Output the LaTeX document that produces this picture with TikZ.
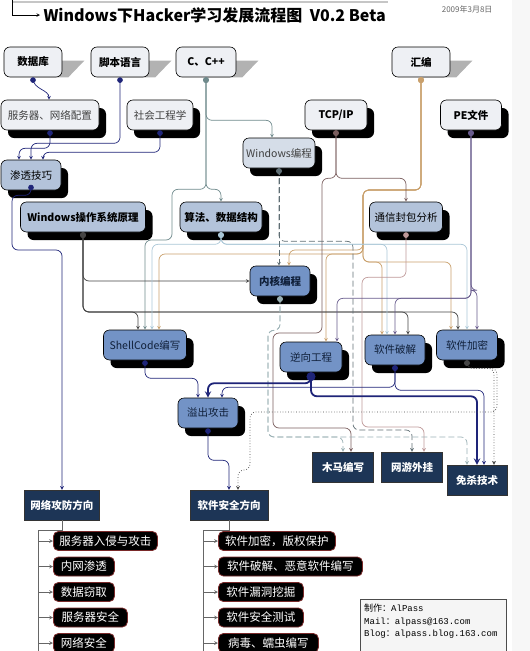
\documentclass[tikz,border=0pt]{standalone}
\usepackage{fontspec}
\setmainfont{Noto Sans CJK SC}
\setmonofont{Liberation Mono}
\usepackage{tikz}
\usetikzlibrary{shapes.geometric, arrows, shadows, calc, backgrounds}
\definecolor{boxwhite}{HTML}{EEF0F4}
\definecolor{boxpale}{HTML}{D5DDE8}
\definecolor{boxlight}{HTML}{B3C3DA}
\definecolor{boxmid}{HTML}{7393C6}
\definecolor{boxnavy}{HTML}{1D3556}
\definecolor{itemred}{HTML}{7A2A2A}
\definecolor{lnavy}{HTML}{1E2478}
\definecolor{ldark}{HTML}{454545}
\definecolor{lteal}{HTML}{6F8A8C}
\definecolor{lsky}{HTML}{A9C6D6}
\definecolor{lorange}{HTML}{C9A06C}
\definecolor{lbrown}{HTML}{7A5E5E}
\definecolor{lpink}{HTML}{BE9898}
\definecolor{lpurple}{HTML}{675A8C}
\definecolor{ldash}{HTML}{5F6E74}
\definecolor{ldashlight}{HTML}{9AB0B4}
\tikzstyle{basebox} = [rectangle, rounded corners=6pt, draw=black, line width=0.6pt, minimum height=30pt, inner sep=2pt, font=\fontsize{10.5}{12}\selectfont]
\tikzstyle{topbox} = [basebox, fill=boxwhite, font=\fontsize{10.5}{12}\selectfont\bfseries]
\tikzstyle{blackshadow} = [drop shadow={shadow xshift=7pt, shadow yshift=-8pt, fill=black, opacity=1}]
\tikzstyle{subbox} = [basebox, blackshadow, fill=boxwhite, text=black!75]
\tikzstyle{lightbox} = [basebox, blackshadow, fill=boxlight]
\tikzstyle{midbox} = [basebox, blackshadow, fill=boxmid, text={rgb,255:red,16;green,32;blue,58}]
\tikzstyle{navybox} = [rectangle, draw=black!80, fill=boxnavy, text=white, minimum height=30pt, inner sep=2pt, font=\fontsize{10.5}{12}\selectfont\bfseries]
\tikzstyle{itembox} = [rectangle, rounded corners=5pt, draw=itemred, line width=0.8pt, fill=black, text=white, minimum height=19pt, inner sep=2pt, font=\fontsize{11.5}{12}\selectfont]
\tikzstyle{link} = [line width=0.7pt, rounded corners=6pt, *->, >=stealth]
\tikzstyle{thicklink} = [link, line width=1.8pt, draw=lnavy]
\tikzstyle{dlink} = [link, dashed, dash pattern=on 6pt off 3pt]
\tikzstyle{olink} = [link, dotted]
\tikzstyle{trunk} = [line width=0.7pt, draw=black!60]

\begin{document}
\begin{tikzpicture}[x=1pt, y=-1pt]
  \useasboundingbox (0,0) rectangle (530,651);
  \fill[gray!6] (512,0) rectangle (530,651);

  % title
  \node (title) [anchor=west, font=\fontsize{16}{18}\selectfont\bfseries] at (40,15) {Windows下Hacker学习发展流程图\ \ V0.2 Beta};
  \node (date) [anchor=east, text=black!60, font=\fontsize{8}{9}\selectfont] at (496,9) {2009年3月8日};
  \draw[gray!45, line width=1.5pt] (13,2) -- (388,2);
  \draw[black, line width=0.6pt, ->, >=stealth] (12,0) |- (title.west);

  % sources
  \node (db) [topbox, minimum width=58pt] at (33,62) {数据库};
  \node (script) [topbox, minimum width=58pt] at (120,62) {脚本语言};
  \node (cpp) [topbox, minimum width=60pt] at (206,62) {C、C++};
  \node (asm) [topbox, minimum width=58pt] at (421,62) {汇编};

  \node (server) [subbox, minimum width=98pt] at (50,115) {服务器、网络配置};
  \node (social) [subbox, minimum width=66pt] at (160,115) {社会工程学};
  \node (tcp) [subbox, text=black, font=\fontsize{10.5}{12}\selectfont\bfseries, minimum width=62pt] at (336,115) {TCP/IP};
  \node (pe) [subbox, text=black, font=\fontsize{10.5}{12}\selectfont\bfseries, minimum width=61pt] at (471,115) {PE文件};
  \node (winprog) [subbox, fill=boxpale, minimum width=72pt] at (279,153) {Windows编程};

  \node (pen) [lightbox, minimum width=60pt] at (31,175) {渗透技巧};
  \node (winos) [lightbox, font=\fontsize{10.5}{12}\selectfont\bfseries, minimum width=125pt] at (83,217) {Windows操作系统原理};
  \node (algo) [lightbox, font=\fontsize{10.5}{12}\selectfont\bfseries, minimum width=82pt] at (221,217) {算法、数据结构};
  \node (packet) [lightbox, minimum width=73pt] at (406,217) {通信封包分析};

  \node (kernel) [midbox, font=\fontsize{10.5}{12}\selectfont\bfseries, minimum width=60pt] at (280,281) {内核编程};
  \node (shell) [midbox, minimum width=83pt] at (145,345) {ShellCode编写};
  \node (reverse) [midbox, minimum width=62pt] at (311,357) {逆向工程};
  \node (crack) [midbox, minimum width=60pt] at (395,350) {软件破解};
  \node (encrypt) [midbox, minimum width=61pt] at (467,345) {软件加密};
  \node (overflow) [midbox, minimum width=60pt] at (208,413) {溢出攻击};

  \node (trojan) [navybox, minimum width=61pt] at (343,467) {木马编写};
  \node (game) [navybox, minimum width=61pt] at (412,467) {网游外挂};
  \node (avkill) [navybox, minimum width=60pt] at (477,480) {免杀技术};
  \node (netdir) [navybox, minimum width=75pt] at (62,505) {网络攻防方向};
  \node (softdir) [navybox, minimum width=78pt] at (229,505) {软件安全方向};

  \begin{scope}[on background layer]
    \foreach \n in {db,script,cpp,asm}
      \fill[gray!60] ($(\n.north east)+(0,14)$) -- ++(22,0) -- ($(\n.south east)+(6,0)$) -- (\n.south) -- cycle;
  \end{scope}

  % first links
  \draw[link, lnavy] (db.south) .. controls +(0,12) and +(0,-10) .. ($(server.north)+(-1,0)$);
  \draw[link, lnavy] (server.south) -- ++(0,18) -| ($(pen.north)+(-12,0)$);
  \draw[link, lnavy] (script.south) -- ++(0,66) -| (pen.north);
  \draw[link, lnavy] (social.south) -- ++(0,22) -| ($(pen.north)+(12,0)$);

  \draw[link, lteal] (cpp.south) -- ++(0,43) -| ($(winprog.north)+(-7,0)$);
  \draw[link, lteal] (cpp.south) -- ++(0,112) -| (algo.north);
  \draw[link, lteal] (cpp.south) -- ++(0,112) -| (172,240) -| (shell.north);

  \draw[link, lorange] (asm.south) |- (363,190) -- (363,250) -| ($(kernel.north)+(9,0)$);
  \draw[link, lorange] (asm.south) |- (363,190) -- (363,254) -| ($(shell.north)+(14,0)$);
  \draw[link, lorange] (asm.south) |- (363,190) -- (363,254) -| ($(reverse.north)+(15,0)$);
  \draw[link, lorange] (asm.south) |- (363,190) -- (363,262) -| ($(crack.north)+(-13,0)$);
  \draw[link, lorange] (asm.south) |- (363,190) -- (363,262) -| ($(encrypt.north)+(-16,0)$);

  \draw[link, ldark] (winos.south) |- (kernel.west);
  \draw[link, ldark] (winos.south) -- (83,312) -| ($(shell.north)+(-7,0)$);
  \draw[link, ldark] (winos.south) -- (83,312) -| ($(crack.north)+(13,0)$);
  \draw[link, ldark] (winos.south) -- (83,312) -| ($(encrypt.north)+(-9,0)$);

  \draw[link, lsky] (algo.south) -- ++(0,12) -| ($(shell.north)+(7,0)$);
  \draw[link, lsky] (algo.south) -- ++(0,12) -| ($(crack.north)+(-8,0)$);
  \draw[link, lsky] (algo.south) -- ++(0,12) -| (encrypt.north);

  \draw[link, lbrown] (tcp.south) -- ++(0,48) -| (packet.north);
  \draw[link, lbrown] (tcp.south) -- ++(0,48) -| (322,333) -| (273,428) -| ($(trojan.north)+(8,0)$);

  \draw[link, lpink] (packet.south) -- ++(0,45) -| (362,427) -| ($(game.north)+(12,0)$);

  \draw[link, lpurple] (pe.south) -- ++(0,168) -| ($(reverse.north)+(26,0)$);
  \draw[link, lpurple] (pe.south) -- ++(0,168) -| (crack.north);
  \draw[link, lpurple] (pe.south) -- ++(0,160) -| ($(encrypt.north)+(10,0)$);

  \draw[dlink, ldash] (winprog.south) -- (winprog.south |- kernel.north);
  \draw[dlink, ldash] (winprog.south) -- ++(0,73) -| (353,430) -| (game.north);
  \draw[dlink, ldashlight] (kernel.south) -- ++(0,34) -| (268,437) -| (trojan.north);
  \draw[dlink, ldashlight] (kernel.south) -- ++(0,34) -| (268,437) -| ($(avkill.north)+(-10,0)$);

  \draw[thicklink] (reverse.south) -- ++(0,11) -| (overflow.north);
  \draw[thicklink] (reverse.south) -- ++(0,24) -| (avkill.north);
  \draw[link, lnavy] (crack.south) -- ++(0,22) -| ($(overflow.north)+(14,0)$);
  \draw[link, lnavy] (crack.south) -- ++(0,25) -| ($(avkill.north)+(7,0)$);

  \draw[olink, ldark] (encrypt.south) -- ++(0,8) -| ($(avkill.north)+(17,0)$);
  \draw[olink, ldark] (encrypt.south) -- ++(0,8) -| (497,412) -| (250,470) -| ($(softdir.north)+(9,0)$);

  \draw[link, lnavy] (shell.south) -- ++(0,18) -| ($(overflow.north)+(-10,0)$);
  \draw[link, lnavy] (overflow.south) -- ++(0,32) -| (softdir.north);
  \draw[link, lnavy] (pen.south) -- ++(0,5) -| (12,250) -| (netdir.north);

  % directions
  \coordinate (netbranch) at (38,530);
  \coordinate (softbranch) at (203,530);
  \draw[trunk] (netdir.south) |- (netbranch) -- (38,651);
  \draw[trunk] (softdir.south) |- (softbranch) -- (203,651);
  \foreach \t/\w [count=\i] in {服务器入侵与攻击/104, 内网渗透/61, 数据窃取/61, 服务器安全/74, 网络安全/61} {
    \node (netitem\i) [itembox, anchor=west, minimum width=\w pt] at (53,{515.5+25.5*\i}) {\t};
    \draw[trunk, ->, >=stealth] (netbranch |- netitem\i.west) -- (netitem\i.west);
  }
  \foreach \t/\w [count=\i] in {软件加密，版权保护/117, 软件破解、恶意软件编写/144, 软件漏洞挖掘/85, 软件安全测试/85, 病毒、蠕虫编写/100} {
    \node (softitem\i) [itembox, anchor=west, minimum width=\w pt] at (218,{515.5+25.5*\i}) {\t};
    \draw[trunk, ->, >=stealth] (softbranch |- softitem\i.west) -- (softitem\i.west);
  }

  % credits
  \draw[black!70, fill=gray!8] (360,599) rectangle (506,652);
  \node (credit) [anchor=north west, align=left, inner sep=2pt, font=\fontsize{9}{12.5}\selectfont] at (362,602)
    {制作：\texttt{AlPass}\\\texttt{Mail}：\texttt{alpass@163.com}\\\texttt{Blog}：\texttt{alpass.blog.163.com}};
\end{tikzpicture}
\end{document}
